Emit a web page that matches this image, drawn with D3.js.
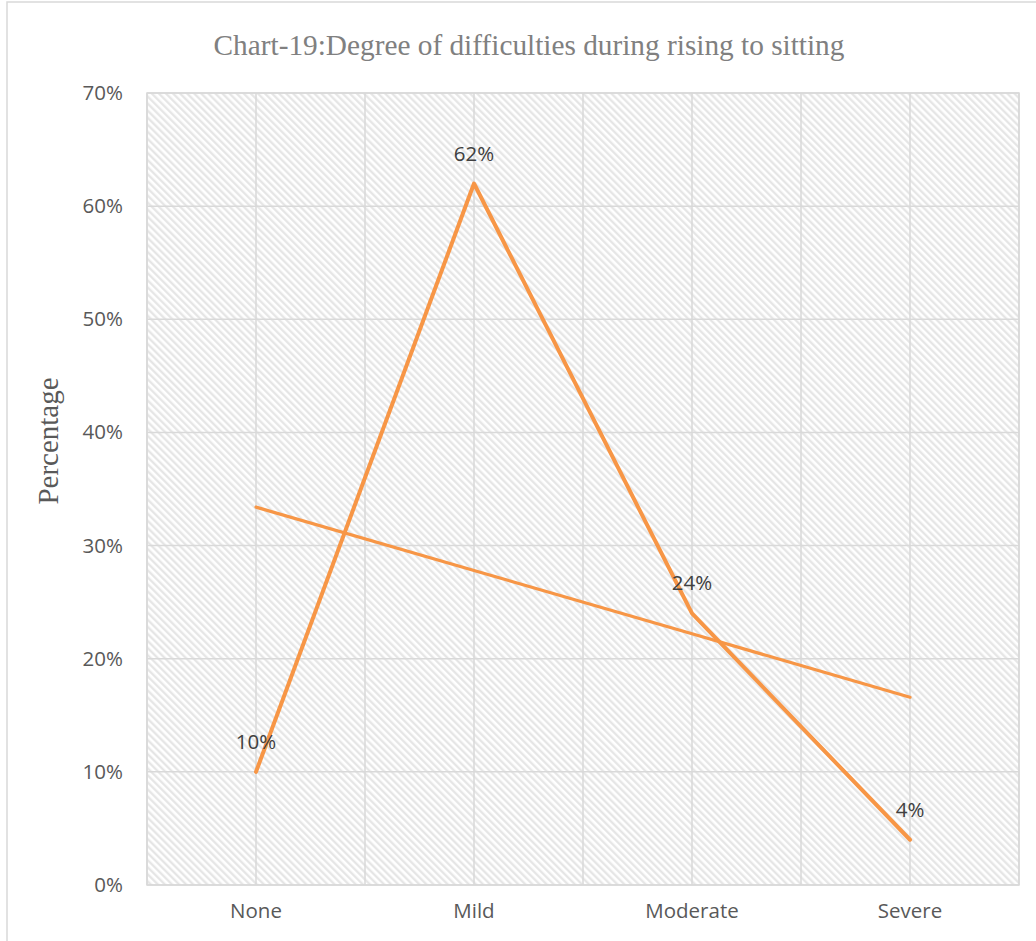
<!DOCTYPE html>
<html>
<head>
<meta charset="utf-8">
<script src="https://cdn.jsdelivr.net/npm/d3@7"></script>
<style>
  html, body { margin: 0; padding: 0; background: #ffffff; }
  svg { display: block; }
</style>
</head>
<body>
<svg id="chart" width="1036" height="941"></svg>
<script>
// Degree of difficulty when rising to sitting (% of respondents)
const categories = ["None", "Mild", "Moderate", "Severe"];
const percentages = [10, 62, 24, 4];
const yTicks = [0, 10, 20, 30, 40, 50, 60, 70];
const chartTitle = "Chart-19:Degree of difficulties during rising to sitting";
const yAxisTitle = "Percentage";

const W = 1036, H = 941;
const plot = { left: 147, right: 1019, top: 93, bottom: 885 };
const orange = "#f79646";
const grid = "#d9d9d9";

const svg = d3.select("#chart");

// outer chart frame
svg.append("rect")
  .attr("x", 7).attr("y", 2)
  .attr("width", W + 10).attr("height", H + 10)
  .attr("fill", "#ffffff")
  .attr("stroke", grid).attr("stroke-width", 1.5);

// diagonal hatch used as plot-area fill
const defs = svg.append("defs");
const pat = defs.append("pattern")
  .attr("id", "hatch")
  .attr("patternUnits", "userSpaceOnUse")
  .attr("width", 5).attr("height", 5)
  .attr("patternTransform", "rotate(-45)");
pat.append("rect").attr("width", 5).attr("height", 5).attr("fill", "#ffffff");
pat.append("line")
  .attr("x1", 1.25).attr("y1", 0).attr("x2", 1.25).attr("y2", 5)
  .attr("stroke", "#e4e4e4").attr("stroke-width", 2.2);

const x = d3.scaleBand().domain(categories).range([plot.left, plot.right]).padding(0);
const cx = c => x(c) + x.bandwidth() / 2;
const y = d3.scaleLinear().domain([0, 70]).range([plot.bottom, plot.top]);

svg.append("rect")
  .attr("x", plot.left).attr("y", plot.top)
  .attr("width", plot.right - plot.left).attr("height", plot.bottom - plot.top)
  .attr("fill", "url(#hatch)");

// horizontal gridlines
svg.append("g").selectAll("line").data(yTicks).join("line")
  .attr("x1", plot.left).attr("x2", plot.right)
  .attr("y1", d => y(d)).attr("y2", d => y(d))
  .attr("stroke", grid).attr("stroke-width", 1.5);

// vertical gridlines at category centres and band edges
const vLines = [];
categories.forEach(c => { vLines.push(x(c)); vLines.push(cx(c)); });
vLines.push(plot.right);
svg.append("g").selectAll("line").data(vLines).join("line")
  .attr("x1", d => d).attr("x2", d => d)
  .attr("y1", plot.top).attr("y2", plot.bottom)
  .attr("stroke", grid).attr("stroke-width", 1.5);

// plot border
svg.append("rect")
  .attr("x", plot.left).attr("y", plot.top)
  .attr("width", plot.right - plot.left).attr("height", plot.bottom - plot.top)
  .attr("fill", "none").attr("stroke", grid).attr("stroke-width", 1.5);

// y axis labels
const yAxis = d3.axisLeft(y).tickValues(yTicks).tickFormat(d => d + "%").tickSize(0).tickPadding(24);
const gy = svg.append("g").attr("transform", `translate(${plot.left},0)`).call(yAxis);
gy.select(".domain").remove();
gy.selectAll("text")
  .attr("font-family", "'Open Sans', sans-serif").attr("font-size", 20.5)
  .attr("fill", "#595959");

// x axis labels
const xAxis = d3.axisBottom(x).tickSize(0).tickPadding(18);
const gx = svg.append("g").attr("transform", `translate(0,${plot.bottom})`).call(xAxis);
gx.select(".domain").remove();
gx.selectAll("text")
  .attr("font-family", "'Open Sans', sans-serif").attr("font-size", 20.5)
  .attr("fill", "#595959");

// linear trendline (least squares over category index)
const xs = categories.map((_, i) => i + 1);
const mx = d3.mean(xs), my = d3.mean(percentages);
const slope = d3.sum(xs, (v, i) => (v - mx) * (percentages[i] - my)) / d3.sum(xs, v => (v - mx) ** 2);
const intercept = my - slope * mx;
const trend = xs.map(v => intercept + slope * v);

const line = d3.line().x((d, i) => cx(categories[i])).y(d => y(d));

svg.append("path")
  .datum(trend)
  .attr("d", line)
  .attr("fill", "none").attr("stroke", orange).attr("stroke-width", 3.2)
  .attr("stroke-linecap", "round");

svg.append("path")
  .datum(percentages)
  .attr("d", line)
  .attr("fill", "none").attr("stroke", orange).attr("stroke-width", 4)
  .attr("stroke-linejoin", "round").attr("stroke-linecap", "round");

// data labels
svg.append("g").selectAll("text").data(percentages).join("text")
  .attr("x", (d, i) => cx(categories[i]))
  .attr("y", d => y(d) - 23)
  .attr("text-anchor", "middle")
  .attr("font-family", "'Open Sans', sans-serif").attr("font-size", 20.5)
  .attr("fill", "#404040")
  .text(d => d + "%");

// title
svg.append("text")
  .attr("x", 529).attr("y", 55)
  .attr("text-anchor", "middle")
  .attr("font-family", "'Liberation Serif', 'Times New Roman', serif")
  .attr("font-size", 29.3)
  .attr("fill", "#808080")
  .text(chartTitle);

// y axis title
svg.append("text")
  .attr("transform", "translate(58,441) rotate(-90)")
  .attr("text-anchor", "middle")
  .attr("font-family", "'Liberation Serif', 'Times New Roman', serif")
  .attr("font-size", 29)
  .attr("fill", "#595959")
  .text(yAxisTitle);
</script>
</body>
</html>
